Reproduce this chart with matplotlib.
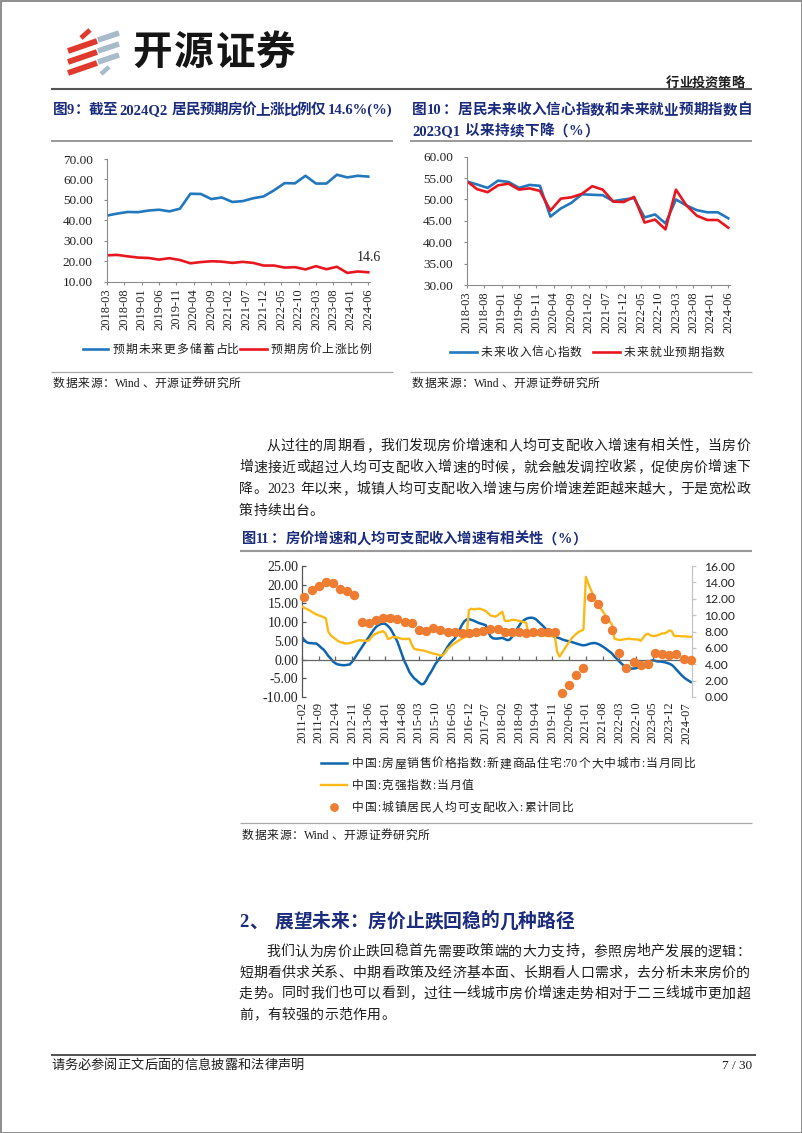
import numpy as np
import pandas as pd
import matplotlib
matplotlib.use('Agg')
import matplotlib.pyplot as plt
import matplotlib.transforms as mtransforms
from matplotlib.lines import Line2D
from matplotlib.patches import Rectangle

# ---------------- data ----------------
# Fig 9: quarterly survey, 2018-03 .. 2024-06
f9_start, f9_end = '2018-03', '2024-06'
f9_save = [42.3, 43.3, 44.1, 44.0, 44.8, 45.2, 44.4, 45.7, 53.0, 52.9, 50.4, 51.2, 49.0,
           49.4, 50.8, 51.7, 54.7, 58.2, 58.1, 61.8, 58.0, 58.0, 62.3, 61.0, 61.8, 61.4]
f9_price = [22.9, 23.1, 22.4, 21.8, 21.6, 20.8, 21.5, 20.6, 19.0, 19.6, 20.0, 19.8, 19.2,
            19.7, 19.2, 17.9, 17.9, 16.9, 17.1, 16.0, 17.6, 16.1, 17.3, 14.3, 15.0, 14.6]
f9_names = ['预期未来更多储蓄占比', '预期房价上涨比例']

# Fig 10: quarterly survey, 2018-03 .. 2024-06
f10_income = [54.2, 53.5, 52.7, 54.4, 54.1, 52.7, 53.4, 53.2, 46.0, 47.9, 49.2, 51.2, 51.1,
              51.0, 49.6, 50.0, 50.3, 45.8, 46.5, 44.4, 50.0, 48.6, 47.5, 47.0, 47.0, 45.6]
f10_job = [54.3, 52.4, 51.7, 53.3, 53.7, 52.3, 52.6, 52.0, 47.4, 50.2, 50.5, 51.3, 53.1,
           52.3, 49.5, 49.4, 50.6, 44.6, 45.3, 43.0, 52.3, 48.6, 46.2, 45.2, 45.2, 43.4]
f10_names = ['未来收入信心指数', '未来就业预期指数']

# Fig 11: monthly 2011-02 .. 2024-09
f11_start, f11_end = '2011-02', '2024-09'
f11_price = [
    6.0, 5.2, 4.6, 4.4, 4.4, 4.3, 4.3, 3.8, 3.2, 2.7, 1.9,
    1.0, 0.3, -0.5, -1.0, -1.3, -1.4, -1.5, -1.5, -1.4, -1.3, -0.6, 0.3,
    1.3, 2.3, 3.2, 4.2, 5.1, 6.0, 7.0, 7.9, 8.7, 9.2, 9.5, 9.6,
    9.5, 9.0, 8.3, 7.2, 6.0, 4.8, 3.0, 1.2, -0.5, -1.8, -3.3, -4.2,
    -5.0, -5.5, -6.1, -6.6, -6.5, -5.6, -4.4, -3.4, -2.3, -1.1, -0.3, 0.6,
    1.3, 2.3, 3.4, 4.3, 5.0, 5.6, 6.7, 7.9, 9.2, 10.2, 10.7, 10.8,
    10.6, 10.4, 10.1, 9.8, 9.6, 9.4, 9.2, 7.6, 6.2, 5.7, 5.6, 5.6,
    5.7, 5.8, 5.5, 5.2, 5.3, 6.0, 6.9, 8.0, 9.0, 10.0, 10.5, 10.9,
    11.1, 11.2, 11.1, 10.8, 10.2, 9.6, 9.0, 8.3, 7.6, 6.9, 6.4, 6.0,
    5.9, 5.7, 5.4, 5.2, 5.0, 4.9, 4.7, 4.5, 4.3, 4.1, 3.9, 3.8,
    3.9, 4.1, 4.3, 4.4, 4.4, 4.2, 3.9, 3.5, 3.1, 2.6, 2.1, 1.6,
    0.8, 0.2, -0.5, -1.1, -1.7, -2.1, -2.3, -2.4, -2.4, -2.3, -2.1, -1.8,
    -1.5, -1.2, -0.8, -0.4, -0.2, -0.3, -0.5, -0.5, -0.6, -0.7, -0.9, -1.1,
    -1.4, -2.0, -2.7, -3.4, -4.1, -4.7, -5.2, -5.6, -6.0]
f11_keqiang = [
    14.2, 13.8, 13.5, 13.2, 12.8, 12.4, 12.1, 11.8, 11.6, 11.3, 11.0,
    7.5, 6.5, 6.0, 5.5, 5.0, 4.7, 4.5, 4.3, 4.3, 4.4, 4.6, 4.8,
    5.0, 5.2, 5.1, 5.1, 5.0, 5.1, 5.9, 6.6, 6.9, 7.2, 7.4, 7.6,
    7.0, 5.5, 5.7, 6.0, 6.0, 5.9, 5.7, 5.5, 5.5, 5.5, 5.6, 4.0,
    2.9, 2.7, 2.6, 2.5, 2.4, 2.2, 2.0, 1.8, 1.6, 1.5, 1.3, 1.1,
    1.1, 1.8, 2.8, 3.4, 3.9, 4.4, 4.8, 5.2, 5.6, 5.9, 6.2, 13.2,
    13.6, 13.4, 13.5, 13.6, 13.5, 13.3, 13.0, 12.4, 11.8, 11.6, 11.5, 11.8,
    12.3, 12.8, 10.4, 10.3, 10.4, 10.6, 10.6, 10.5, 10.3, 10.2, 10.0, 9.8,
    6.6, 6.5, 6.9, 6.8, 6.6, 6.5, 6.4, 6.4, 6.3, 6.3, 6.2, 6.2,
    2.0, 0.8, 1.8, 2.8, 3.8, 4.7, 5.6, 6.3, 6.9, 7.4, 7.7, 8.0,
    22.1, 20.4, 18.8, 17.2, 15.8, 14.6, 13.8, 13.0, 12.0, 11.0, 10.2, 9.3,
    5.6, 5.4, 5.2, 5.3, 5.4, 5.5, 5.6, 5.5, 5.4, 5.4, 5.3, 5.0,
    5.8, 6.6, 6.9, 6.5, 6.3, 6.3, 6.5, 6.7, 7.0, 7.0, 7.3, 7.8,
    7.6, 6.3, 6.3, 6.3, 6.2, 6.2, 6.2, 6.1, 6.1]
# quarterly, 2011-03 .. 2024-09 (right axis)
f11_income = [12.2, 13.1, 13.6, 14.0, 13.9, 13.2, 12.9, 12.5,
              9.2, 9.0, 9.4, 9.6,
              9.7, 9.5, 9.2, 9.0,
              8.2, 8.1, 8.4, 8.2,
              7.9, 8.0, 7.8, 7.8,
              7.9, 8.1, 8.3, 8.3,
              8.0, 7.9, 8.0, 7.8,
              7.9, 8.0, 8.0, 7.9,
              0.5, 1.5, 2.7, 3.5,
              12.2, 11.4, 9.5, 8.2,
              5.4, 3.6, 4.3, 3.9,
              4.0, 5.4, 5.2, 5.1,
              5.3, 4.6, 4.5]
f11_names = ['中国:房屋销售价格指数:新建商品住宅:70个大中城市:当月同比',
             '中国:克强指数:当月值',
             '中国:城镇居民人均可支配收入:累计同比']

# ---------------- page setup ----------------
W, H = 802, 1133
fig = plt.figure(figsize=(W / 100, H / 100), dpi=100)
fig.patch.set_facecolor('white')
PX = mtransforms.Affine2D().scale(1 / W, -1 / H).translate(0, 1) + fig.transFigure
RND = fig.canvas.get_renderer()

MIX = ['Liberation Serif', 'Noto Sans CJK SC']
NAVY = '#1B2C7E'
TXT = '#1e1e1e'
BLUE = '#2377BD'
RED = '#E8161E'
BLUE11 = '#0E65AF'
YEL = '#FBB917'
ORG = '#EE7D31'


def is_wide(ch):
    return len(ch) == 1 and ord(ch) >= 0x2E80


def split_tokens(s):
    out, buf = [], ''
    for ch in s:
        if is_wide(ch) or ch == ' ':
            if buf:
                out.append(buf)
                buf = ''
            out.append(ch)
        else:
            buf += ch
    if buf:
        out.append(buf)
    return out


def put_line(x0, yc, s, size, x1=None, gap=0.0, color=TXT, weight='normal',
             family=MIX, space=0.25):
    px = size * 100 / 72
    base = yc + 0.36 * px
    toks = split_tokens(s)
    arts, widths = [], []
    for tk in toks:
        if tk == ' ':
            arts.append(None)
            widths.append(space * px)
            continue
        t = fig.text(0, 0, tk, transform=PX, fontsize=size, color=color,
                     fontweight=weight, family=family, va='baseline', ha='left')
        if is_wide(tk):
            widths.append(px)
        else:
            widths.append(t.get_window_extent(RND).width + 0.08 * px)
        arts.append(t)
    if x1 is not None and len(toks) > 1:
        gap = (x1 - x0 - sum(widths)) / (len(toks) - 1)
    x = x0
    for a, w in zip(arts, widths):
        if a is not None:
            a.set_position((x, base))
        x += w + gap
    return gap


def hline(x0, x1, y, color, lw):
    fig.add_artist(Line2D([x0, x1], [y, y], transform=PX, color=color, lw=lw,
                          solid_capstyle='butt'))


def add_ax(x0, y0, x1, y1):
    return fig.add_axes([x0 / W, 1 - y1 / H, (x1 - x0) / W, (y1 - y0) / H])


# page border
fig.add_artist(Rectangle((0.5, 0.5), 801, 1132, transform=PX, fill=False,
                         ec='#7a7a7a', lw=1.2))

# ---------------- header ----------------
for (xa, ya, xb, yb) in [(68, 51, 97, 41), (68, 62, 97, 52), (68, 73, 97, 63)]:
    fig.add_artist(Line2D([xa, xb], [ya, yb], transform=PX, color='#E03A2F', lw=4.2,
                          solid_capstyle='butt'))
fig.add_artist(Line2D([81, 90], [38, 30], transform=PX, color='#E03A2F', lw=3.5,
                      solid_capstyle='butt'))
for (xa, ya, xb, yb) in [(98, 40, 119, 33), (98, 51, 119, 44), (98, 62, 119, 55)]:
    fig.add_artist(Line2D([xa, xb], [ya, yb], transform=PX, color='#A7BBCB', lw=4.0,
                          solid_capstyle='butt'))
fig.add_artist(Line2D([101, 109], [74, 67], transform=PX, color='#A7BBCB', lw=3.2,
                      solid_capstyle='butt'))

put_line(132, 50, '开源证券', 28.5, x1=296, color='#151515', weight='bold')
put_line(666, 82, '行业投资策略', 9.5, x1=744, color=TXT, weight='bold')
hline(51, 752, 89, '#555555', 1.5)

# ---------------- fig 9 / fig 10 titles ----------------
put_line(53, 109, '图9：截至 2024Q2 居民预期房价上涨比例仅 14.6%(%)', 10.5, x1=394,
         color=NAVY, weight='bold')
g10 = put_line(412, 109, '图10：居民未来收入信心指数和未来就业预期指数自', 10.5, x1=752,
               color=NAVY, weight='bold')
put_line(412, 130, '2023Q1 以来持续下降（%）', 10.5, gap=max(g10, 0.0), color=NAVY,
         weight='bold')

hline(51, 393, 141, '#9a9a9a', 1.4)
hline(410, 752, 141, '#9a9a9a', 1.4)
hline(51, 393, 372, '#a8a8a8', 0.9)
hline(410, 752, 372, '#a8a8a8', 0.9)
put_line(53, 383, '数据来源：Wind、开源证券研究所', 8.5, gap=0.6)
put_line(412, 383, '数据来源：Wind、开源证券研究所', 8.5, gap=0.6)

# month grid for the quarterly charts
m9 = pd.period_range(f9_start, f9_end, freq='M')
x9 = np.arange(len(m9))[::3]
t9 = np.arange(len(m9))[::5]
l9 = [p.strftime('%Y-%m') for p in m9[::5]]


def style_small(ax, yticks):
    for s in ['top', 'right']:
        ax.spines[s].set_visible(False)
    for s in ['left', 'bottom']:
        ax.spines[s].set_color('#8c8c8c')
        ax.spines[s].set_linewidth(0.8)
    ax.set_xticks(t9)
    ax.set_xticklabels(l9, rotation=90, family='Liberation Serif', fontsize=9)
    ax.set_yticks(yticks)
    ax.set_yticklabels([f'{v:.2f}' for v in yticks], family='Liberation Serif', fontsize=9.5)
    ax.tick_params(axis='x', length=2.5, width=0.8, color='#8c8c8c', pad=2.2,
                   labelcolor='#222222')
    ax.tick_params(axis='y', length=2.0, width=0.8, color='#8c8c8c', pad=8,
                   labelcolor='#222222')
    ax.set_xlim(0, 75.5)
    ax.patch.set_alpha(0)


# ---------------- fig 9 chart ----------------
ax9 = add_ax(106.7, 159, 370, 281.7)
ax9.plot(x9, f9_save, color=BLUE, lw=1.9, solid_joinstyle='round')
ax9.plot(x9, f9_price, color=RED, lw=1.9, solid_joinstyle='round')
ax9.set_ylim(10, 70)
style_small(ax9, [10, 20, 30, 40, 50, 60, 70])
ax9.annotate(f'{f9_price[-1]:.1f}', xy=(x9[-1], f9_price[-1]), xytext=(1, 15),
             textcoords='offset pixels', ha='center', va='center',
             family='Liberation Serif', fontsize=10, color='#222222')

# legend fig 9
fig.add_artist(Line2D([83, 108], [349, 349], transform=PX, color=BLUE, lw=1.9))
put_line(113, 349, f9_names[0], 8.5, gap=0.9)
fig.add_artist(Line2D([240, 267], [349, 349], transform=PX, color=RED, lw=1.9))
put_line(271, 349, f9_names[1], 8.5, gap=0.9)

# ---------------- fig 10 chart ----------------
ax10 = add_ax(466.7, 156.7, 730, 285)
ax10.plot(x9, f10_income, color=BLUE, lw=1.9, solid_joinstyle='round')
ax10.plot(x9, f10_job, color=RED, lw=1.9, solid_joinstyle='round')
ax10.set_ylim(30, 60)
style_small(ax10, [30, 35, 40, 45, 50, 55, 60])

fig.add_artist(Line2D([450, 477], [352, 352], transform=PX, color=BLUE, lw=1.9))
put_line(481, 352, f10_names[0], 8.5, gap=0.9)
fig.add_artist(Line2D([593, 620], [352, 352], transform=PX, color=RED, lw=1.9))
put_line(624, 352, f10_names[1], 8.5, gap=0.9)

# ---------------- paragraph 1 ----------------
BODY = 10.0
R_EDGE = 750
put_line(266, 445, '从过往的周期看，我们发现房价增速和人均可支配收入增速有相关性，当房价', BODY, x1=R_EDGE)
put_line(239, 466.5, '增速接近或超过人均可支配收入增速的时候，就会触发调控收紧，促使房价增速下', BODY, x1=R_EDGE)
g = put_line(239, 488, '降。2023 年以来，城镇人均可支配收入增速与房价增速差距越来越大，于是宽松政', BODY, x1=R_EDGE)
put_line(239, 509.5, '策持续出台。', BODY, gap=g)

# ---------------- fig 11 ----------------
put_line(242, 538, '图11：房价增速和人均可支配收入增速有相关性（%）', 10.3, gap=0.0,
         color=NAVY, weight='bold')
hline(240, 752, 551, '#9a9a9a', 1.5)

m11 = pd.period_range(f11_start, f11_end, freq='M')
x11 = np.arange(len(m11))
t11 = x11[::7]
l11 = [p.strftime('%Y-%m') for p in m11[::7]]

ax = add_ax(302, 566, 692, 697)
ax.plot(x11, f11_price, color=BLUE11, lw=1.8, zorder=2)
ax.plot(x11, f11_keqiang, color=YEL, lw=1.7, zorder=3)
ax.set_xlim(0, 163.5)
ax.set_ylim(-10, 25)
ax.patch.set_alpha(0)
for s in ['top', 'right']:
    ax.spines[s].set_visible(False)
ax.spines['left'].set_color('#555555')
ax.spines['bottom'].set_color('#666666')
ax.spines['bottom'].set_position(('data', 0))
ax.spines['left'].set_linewidth(0.9)
ax.spines['bottom'].set_linewidth(0.9)
ax.set_xticks(t11)
ax.tick_params(axis='x', direction='in', length=3, width=0.9, color='#666666',
               labelbottom=False)
yl = np.arange(-10, 26, 5)
ax.set_yticks(yl)
ax.set_yticklabels([f'{v:.2f}' for v in yl], family='Liberation Serif', fontsize=10)
ax.tick_params(axis='y', direction='in', length=3, width=0.9, color='#555555', pad=2.5,
               labelcolor='#222222')
sec = ax.secondary_xaxis('bottom')
sec.set_xticks(t11, l11)
sec.tick_params(length=0, pad=3.5, labelsize=9, labelcolor='#222222')
for lab in sec.get_xticklabels():
    lab.set_rotation(90)
    lab.set_family('Liberation Serif')
sec.spines['bottom'].set_visible(False)

ax2 = ax.twinx()
ax2.scatter(x11[1::3], f11_income, s=46, color=ORG, linewidths=0, zorder=4, clip_on=False)
ax2.set_ylim(0, 16)
for s in ['top', 'left', 'bottom']:
    ax2.spines[s].set_visible(False)
ax2.spines['right'].set_color('#c4c4c4')
ax2.spines['right'].set_linewidth(0.9)
yr = np.arange(0, 17, 2)
ax2.set_yticks(yr)
ax2.set_yticklabels([f'{v:.2f}' for v in yr], family='Lato', fontsize=8.7)
ax2.tick_params(axis='y', direction='out', length=3, width=0.9, color='#c4c4c4', pad=6,
                labelcolor='#222222')

# legend fig 11
fig.add_artist(Line2D([321, 347], [763, 763], transform=PX, color=BLUE11, lw=1.8))
put_line(352, 763, f11_names[0], 8.5, gap=0.7)
fig.add_artist(Line2D([321, 347], [785, 785], transform=PX, color=YEL, lw=1.7))
put_line(352, 785, f11_names[1], 8.5, gap=0.7)
fig.add_artist(Line2D([334], [807], transform=PX, color=ORG, marker='o', ms=6.3, mew=0,
                      ls='none'))
put_line(352, 807, f11_names[2], 8.5, gap=0.7)

hline(240, 752, 823, '#a8a8a8', 0.9)
put_line(242, 835, '数据来源：Wind、开源证券研究所', 8.5, gap=0.6)

# ---------------- section 2 ----------------
put_line(239, 920.5, '2、 展望未来：房价止跌回稳的几种路径', 13.5, color=NAVY, weight='bold',
         space=0.3)
put_line(266, 950.5, '我们认为房价止跌回稳首先需要政策端的大力支持，参照房地产发展的逻辑：', BODY, x1=R_EDGE)
put_line(239, 971.5, '短期看供求关系、中期看政策及经济基本面、长期看人口需求，去分析未来房价的', BODY, x1=R_EDGE)
g = put_line(239, 992.5, '走势。同时我们也可以看到，过往一线城市房价增速走势相对于二三线城市更加超', BODY, x1=R_EDGE)
put_line(239, 1013.5, '前，有较强的示范作用。', BODY, gap=g)

# ---------------- footer ----------------
hline(51, 756, 1055, '#333333', 1.2)
put_line(51, 1064, '请务必参阅正文后面的信息披露和法律声明', 9.5, x1=304)
fig.text(752, 1064 + 0.36 * 9.5 * 100 / 72, '7 / 30', transform=PX, ha='right', va='baseline',
         family='Liberation Serif', fontsize=9.5, color=TXT)

fig.savefig('out.png', dpi=100, facecolor='white')
